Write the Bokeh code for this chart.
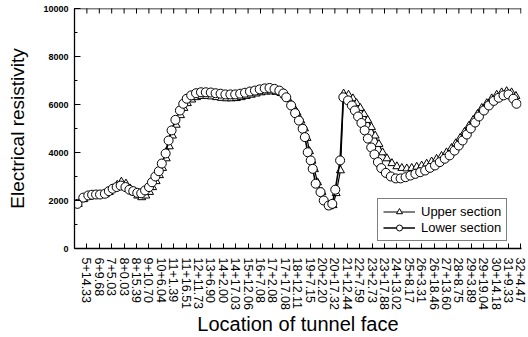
import math
from bokeh.plotting import figure
from bokeh.models import FixedTicker, SingleIntervalTicker, Legend, LegendItem, Range1d, Span
from bokeh.embed import file_html
from bokeh.resources import INLINE

station_labels = ["5+14.33", "6+9.68", "7+5.03", "8+0.03", "8+15.39", "9+10.70", "10+6.04",
                  "11+1.39", "11+16.51", "12+11.73", "13+6.90", "14+2.00", "14+17.03", "15+12.06",
                  "16+7.08", "17+2.08", "17+17.08", "18+12.11", "19+7.15", "20+2.20", "20+17.32",
                  "21+12.44", "22+7.59", "23+2.73", "23+17.88", "24+13.02", "25+8.17", "26+3.31",
                  "26+18.46", "27+13.60", "28+8.75", "29+3.89", "29+19.04", "30+14.18", "31+9.33",
                  "32+4.47"]
tick_pos = list(range(1, len(station_labels) + 1))
y_max = 10000

upper_x = [0.30, 0.75, 1.15, 1.45, 1.78, 2.10, 2.48, 2.80, 3.12, 3.45, 3.78, 4.15, 4.48, 4.80,
           5.10, 5.42, 5.75, 6.05, 6.30, 6.58, 6.85, 7.10, 7.40, 7.65, 7.90, 8.20, 8.55, 8.82,
           9.10, 9.45, 9.85, 10.25, 10.65, 11.05, 11.45, 11.85, 12.25, 12.65, 13.05, 13.45,
           13.85, 14.25, 14.65, 15.05, 15.45, 15.85, 16.25, 16.65, 16.95, 17.20, 17.60, 17.95,
           18.25, 18.55, 18.75, 18.95, 19.15, 19.35, 19.60, 19.95, 20.20, 20.55, 20.85, 21.10,
           21.45, 21.70, 22.10, 22.45, 22.75, 23.05, 23.35, 23.65, 23.95, 24.25, 24.55, 24.85,
           25.20, 25.60, 26.00, 26.40, 26.80, 27.20, 27.60, 28.00, 28.40, 28.80, 29.20, 29.60,
           30.00, 30.40, 30.75, 31.10, 31.45, 31.80, 32.15, 32.50, 32.85, 33.25, 33.65, 34.05,
           34.45, 34.85, 35.25, 35.60]
upper_y = [1850, 2050, 2150, 2200, 2220, 2230, 2250, 2350, 2500, 2650, 2780, 2700, 2500, 2330,
           2200, 2130, 2200, 2350, 2550, 2800, 3050, 3350, 3750, 4250, 4700, 5150, 5550, 5850,
           6050, 6200, 6300, 6350, 6350, 6330, 6300, 6270, 6250, 6250, 6260, 6300,
           6350, 6400, 6450, 6500, 6530, 6540, 6520, 6470, 6380, 6250, 5950, 5650,
           5330, 5000, 4600, 4050, 3650, 3300, 2750, 2350, 2000, 1750, 1800, 2300,
           3250, 6450, 6400, 6250, 6050, 5850, 5600, 5350, 5050, 4700, 4350, 4000,
           3750, 3550, 3420, 3350, 3330, 3350, 3400, 3450, 3530, 3620, 3730, 3850,
           4000, 4180, 4380, 4600, 4850, 5100, 5350, 5600, 5850, 6050, 6250, 6400,
           6500, 6550, 6500, 6350]

lower_x = [0.24, 0.71, 1.11, 1.42, 1.74, 2.06, 2.45, 2.77, 3.08, 3.40, 3.72, 4.11, 4.43, 4.74,
           5.06, 5.38, 5.69, 6.01, 6.25, 6.52, 6.80, 7.04, 7.35, 7.59, 7.83, 8.14, 8.50, 8.77,
           9.05, 9.41, 9.80, 10.20, 10.59, 10.99, 11.38, 11.78, 12.17, 12.57, 12.96, 13.36,
           13.75, 14.15, 14.55, 14.94, 15.34, 15.73, 16.13, 16.52, 16.84, 17.08, 17.47, 17.79,
           18.10, 18.40, 18.58, 18.81, 19.05, 19.21, 19.45, 19.84, 20.10, 20.50, 20.79, 21.03,
           21.42, 21.68, 22.06, 22.37, 22.61, 22.87, 23.14, 23.40, 23.66, 23.93, 24.19, 24.47,
           24.74, 25.11, 25.51, 25.91, 26.30, 26.70, 27.09, 27.49, 27.88, 28.28, 28.67, 29.07,
           29.46, 29.86, 30.25, 30.65, 30.99, 31.30, 31.64, 31.96, 32.31, 32.62, 33.02, 33.42,
           33.81, 34.21, 34.60, 35.00, 35.39, 35.65]
lower_y = [1860, 2120, 2210, 2240, 2250, 2250, 2280, 2390, 2490, 2560, 2620, 2560, 2450, 2390,
           2320, 2300, 2420, 2560, 2760, 3000, 3220, 3540, 3960, 4500, 4920, 5360, 5750, 6030,
           6240, 6380, 6470, 6510, 6510, 6500, 6470, 6450, 6420, 6420, 6420, 6450,
           6490, 6540, 6580, 6630, 6670, 6690, 6650, 6580, 6460, 6300, 5960, 5640,
           5330, 4990, 4640, 4010, 3670, 3320, 2700, 2350, 2000, 1790, 1860, 2450,
           3670, 6300, 6170, 5960, 5750, 5500, 5230, 4920, 4580, 4210, 3920, 3600,
           3350, 3150, 3000, 2920, 2920, 2970, 3040, 3110, 3180, 3250, 3360, 3460,
           3600, 3740, 3880, 4080, 4290, 4500, 4750, 5000, 5250, 5500, 5750, 5960,
           6150, 6280, 6380, 6420, 6240, 6030]

FONT = "Liberation Sans"

p = figure(width=528, height=337, output_backend="svg", toolbar_location=None,
           x_range=Range1d(0, 36.05), y_range=Range1d(0, y_max),
           min_border_left=74, min_border_right=7, min_border_top=8, min_border_bottom=89,
           x_axis_label="Location of tunnel face", y_axis_label="Electrical resistivity")
p.outline_line_color = None
p.grid.visible = False
p.background_fill_color = "white"
p.border_fill_color = "white"

# x axis
xa = p.xaxis[0]
xa.ticker = FixedTicker(ticks=tick_pos, minor_ticks=[])
xa.major_label_overrides = {t: lab for t, lab in zip(tick_pos, station_labels)}
xa.major_label_orientation = -math.pi / 2
xa.major_label_text_font = FONT
xa.major_label_text_font_size = "12.5px"
xa.major_label_text_color = "black"
xa.major_label_standoff = 9
xa.major_tick_in = 5
xa.major_tick_out = 0
xa.axis_line_width = 1.3
xa.axis_line_color = "black"
xa.major_tick_line_color = "black"
xa.axis_label_text_font = FONT
xa.axis_label_text_font_size = "20px"
xa.axis_label_text_font_style = "normal"
xa.axis_label_text_color = "black"
xa.axis_label_standoff = 0

# y axis
ya = p.yaxis[0]
ya.ticker = SingleIntervalTicker(interval=2000, num_minor_ticks=2)
ya.major_label_text_font = FONT
ya.major_label_text_font_size = "9px"
ya.major_label_text_font_style = "bold"
ya.major_label_text_color = "black"
ya.major_label_standoff = 6
ya.major_tick_in = 6
ya.major_tick_out = 0
ya.minor_tick_in = 3
ya.minor_tick_out = 0
ya.axis_line_width = 1.3
ya.axis_line_color = "black"
ya.axis_label_text_font = FONT
ya.axis_label_text_font_size = "19px"
ya.axis_label_text_font_style = "normal"
ya.axis_label_text_color = "black"
ya.axis_label_standoff = 12

# top frame line with inward ticks (clipped to the frame)
p.add_layout(Span(location=y_max, dimension="width", line_color="black", line_width=1.3))
p.scatter(tick_pos, [y_max] * len(tick_pos), marker="dash", angle=math.pi / 2, size=10,
          line_color="black", line_width=1)

# series
lu = p.line(upper_x, upper_y, line_color="black", line_width=1.2)
su = p.scatter(upper_x, upper_y, marker="triangle", size=8, fill_color="white",
               line_color="black", line_width=1)
ll = p.line(lower_x, lower_y, line_color="black", line_width=1.6)
sl = p.scatter(lower_x, lower_y, marker="circle", size=9, fill_color="white",
               line_color="black", line_width=1)

legend = Legend(items=[LegendItem(label="Upper section", renderers=[lu, su]),
                       LegendItem(label="Lower section", renderers=[ll, sl])],
                location=(303, 7), margin=0, padding=5, spacing=1,
                glyph_width=32, glyph_height=15, label_height=15, label_standoff=6,
                label_text_font=FONT, label_text_font_size="13px", label_text_color="black",
                border_line_color="black", border_line_width=1,
                background_fill_color="white", background_fill_alpha=1)
p.add_layout(legend, "center")

open("out.html", "w").write(file_html(p, INLINE))
